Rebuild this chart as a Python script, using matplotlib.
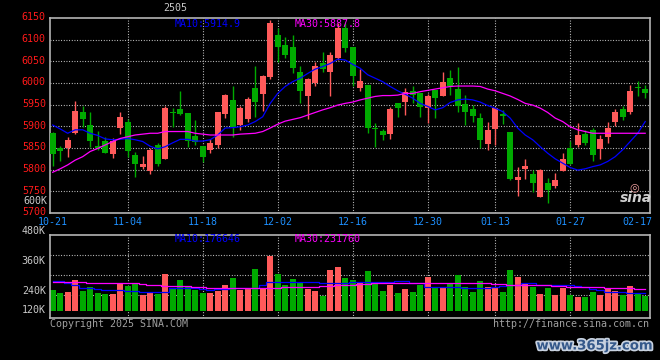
import matplotlib
matplotlib.use('Agg')
import matplotlib.pyplot as plt
import matplotlib.transforms as mtransforms
import matplotlib.patheffects as pe
import numpy as np

# daily candles, 2024-10-21 .. 2025-02-18
opens = [5884, 5849, 5849, 5884, 5932, 5903, 5855, 5866, 5837, 5896,
         5909, 5834, 5806, 5797, 5857, 5825, 5933, 5939, 5931, 5878,
         5855, 5846, 5857, 5929, 5961, 5902, 5917, 5988, 5975, 6015,
         6111, 6088, 6083, 6025, 5971, 5999, 6045, 6025, 6057, 6126,
         6082, 5989, 5995, 5895, 5889, 5882, 5953, 5957, 5982, 5978,
         5942, 5984, 5969, 6012, 5986, 5951, 5940, 5919, 5859, 5894,
         5929, 5888, 5777, 5801, 5790, 5738, 5769, 5763, 5798, 5849,
         5857, 5882, 5892, 5848, 5876, 5909, 5939, 5932, 5990, 5986]
highs = [5886, 5855, 5876, 5959, 5948, 5934, 5889, 5875, 5872, 5932,
         5917, 5840, 5832, 5850, 5861, 5948, 5942, 5982, 5931, 5914,
         5855, 5870, 5934, 5975, 5992, 5946, 5967, 6039, 6019, 6145,
         6126, 6107, 6111, 6040, 6011, 6049, 6072, 6071, 6138, 6138,
         6082, 6032, 5995, 5907, 5895, 5945, 5953, 5988, 5992, 5978,
         5975, 5984, 6025, 6030, 6038, 5972, 5949, 5930, 5909, 5945,
         5938, 5888, 5807, 5825, 5799, 5802, 5780, 5792, 5838, 5867,
         5907, 5891, 5897, 5880, 5909, 5940, 5948, 5996, 6005, 5995]
lows = [5809, 5821, 5830, 5882, 5899, 5853, 5846, 5838, 5826, 5882,
        5830, 5784, 5802, 5790, 5809, 5825, 5899, 5926, 5853, 5857,
        5817, 5838, 5849, 5919, 5876, 5892, 5911, 5922, 5935, 6009,
        6049, 6057, 6022, 5953, 5917, 5992, 6026, 5969, 6053, 6072,
        5994, 5982, 5884, 5853, 5869, 5871, 5922, 5926, 5955, 5922,
        5907, 5920, 5969, 5972, 5934, 5903, 5911, 5849, 5846, 5857,
        5905, 5776, 5740, 5779, 5748, 5738, 5722, 5757, 5798, 5813,
        5853, 5857, 5819, 5825, 5861, 5901, 5915, 5928, 5969, 5965]
closes = [5837, 5842, 5869, 5936, 5917, 5866, 5849, 5839, 5866, 5922,
          5842, 5814, 5813, 5845, 5814, 5942, 5931, 5928, 5866, 5863,
          5830, 5862, 5932, 5972, 5899, 5942, 5963, 5957, 6015, 6138,
          6082, 6065, 6034, 5982, 6009, 6040, 6032, 6065, 6126, 6080,
          6016, 6005, 5897, 5893, 5880, 5940, 5943, 5980, 5972, 5945,
          5970, 5965, 6003, 5994, 5946, 5934, 5925, 5869, 5892, 5943,
          5925, 5779, 5782, 5809, 5770, 5799, 5753, 5776, 5825, 5813,
          5879, 5861, 5835, 5871, 5896, 5932, 5922, 5982, 5988, 5978]
ma10 = [5903, 5894, 5884, 5892, 5892, 5884, 5879, 5871, 5869, 5870,
        5872, 5869, 5865, 5854, 5848, 5853, 5862, 5870, 5870, 5866,
        5866, 5869, 5880, 5896, 5897, 5899, 5903, 5911, 5922, 5953,
        5976, 5992, 6003, 6011, 6022, 6032, 6038, 6045, 6055, 6053,
        6043, 6034, 6019, 6011, 6003, 5992, 5982, 5974, 5965, 5953,
        5946, 5938, 5943, 5955, 5961, 5963, 5961, 5956, 5948, 5942,
        5934, 5919, 5896, 5880, 5869, 5853, 5838, 5825, 5815, 5805,
        5799, 5802, 5807, 5811, 5819, 5830, 5846, 5865, 5884, 5911]
ma30 = [5794, 5802, 5811, 5822, 5830, 5842, 5849, 5857, 5865, 5872,
        5876, 5880, 5882, 5884, 5884, 5888, 5888, 5888, 5888, 5884,
        5882, 5880, 5880, 5880, 5880, 5882, 5883, 5884, 5888, 5896,
        5905, 5912, 5916, 5920, 5926, 5932, 5938, 5943, 5949, 5953,
        5956, 5961, 5965, 5969, 5971, 5971, 5972, 5976, 5976, 5980,
        5983, 5986, 5989, 5992, 5993, 5993, 5993, 5992, 5986, 5982,
        5976, 5970, 5962, 5953, 5949, 5942, 5932, 5919, 5911, 5899,
        5892, 5888, 5884, 5884, 5884, 5884, 5884, 5884, 5884, 5884]

# volume (thousands)
volume = [244, 233, 237, 284, 240, 255, 233, 228, 228, 267,
          261, 273, 224, 233, 228, 308, 251, 284, 262, 244,
          233, 233, 240, 264, 291, 244, 251, 328, 248, 381,
          308, 264, 287, 271, 248, 240, 220, 323, 335, 291,
          284, 273, 320, 271, 240, 264, 231, 247, 235, 264,
          296, 251, 253, 267, 304, 255, 235, 280, 255, 255,
          235, 323, 297, 271, 255, 227, 253, 224, 251, 224,
          218, 218, 237, 224, 248, 240, 224, 260, 231, 221]
vol_ma10 = [280, 280, 271, 264, 253, 251, 248, 244, 244, 244,
            240, 240, 237, 237, 237, 238, 251, 253, 253, 251,
            248, 244, 248, 248, 253, 253, 253, 253, 264, 277,
            277, 277, 277, 277, 277, 277, 271, 271, 271, 271,
            277, 277, 277, 277, 277, 277, 279, 279, 271, 271,
            257, 257, 257, 255, 255, 253, 253, 253, 253, 257,
            261, 264, 264, 271, 271, 266, 266, 264, 264, 264,
            261, 257, 250, 244, 237, 237, 237, 231, 231, 231]
vol_ma30 = [277, 277, 277, 277, 275, 271, 271, 271, 271, 271,
            271, 271, 268, 266, 264, 261, 261, 261, 261, 257,
            255, 253, 253, 252, 252, 252, 252, 253, 253, 253,
            253, 255, 257, 257, 257, 258, 260, 262, 264, 264,
            266, 268, 270, 271, 271, 271, 271, 271, 271, 271,
            271, 271, 271, 271, 271, 271, 271, 271, 271, 270,
            268, 266, 266, 264, 264, 264, 264, 262, 260, 258,
            257, 257, 257, 255, 253, 253, 251, 251, 250, 250]

date_pos = [0, 10, 20, 30, 40, 50, 59, 69, 78]
date_labels = ['10-21', '11-04', '11-18', '12-02', '12-16', '12-30', '01-13', '01-27', '02-17']
price_ticks = [5700, 5750, 5800, 5850, 5900, 5950, 6000, 6050, 6100, 6150]
vol_labels = ['480K', '360K', '240K', '120K']
vol_label_pos = [480, 360, 240, 164]

RED = '#ff5a5a'
GREEN = '#00aa00'
GRID = '#d8d8d8'
BORDER = '#b4b4b4'
MONO = 'DejaVu Sans Mono'
FS = 7.2

o = np.array(opens, float)
c = np.array(closes, float)
x = np.arange(len(o))
colors = np.where(c >= o, RED, GREEN)

fig = plt.figure(figsize=(6.6, 3.6), dpi=100, facecolor='black')


def box(l, t, r, b):
    return [l / 660, 1 - b / 360, (r - l) / 660, (b - t) / 360]


def px(xp, yp):
    return xp / 660, 1 - yp / 360


ax = fig.add_axes(box(50, 18, 650, 213))
axv = fig.add_axes(box(50, 235, 650, 318))

for a in (ax, axv):
    a.set_facecolor('black')
    for s in a.spines.values():
        s.set_color(BORDER)
        s.set_linewidth(1.2)
    a.set_xlim(-0.36, 79.64)
    for p in date_pos[1:-1]:
        a.axvline(p, color=GRID, lw=0.8, ls=(0, (0.8, 1.6)), zorder=0)
    a.tick_params(length=0)

# price panel
for t in price_ticks[1:-1]:
    ax.axhline(t, color=GRID, lw=0.8, ls=(0, (0.8, 1.6)), zorder=0)
ax.vlines(x, lows, highs, colors=colors, lw=1.0, zorder=2)
ax.bar(x, np.maximum(np.abs(c - o), 3), bottom=np.minimum(o, c), width=0.8,
       color=colors, zorder=3)
ax.plot(x, ma10, color='#0000ff', lw=0.9, zorder=4)
ax.plot(x, ma30, color='#ff00ff', lw=0.9, zorder=4)
ax.set_ylim(5700, 6150)
ax.set_yticks(price_ticks)
ax.set_yticklabels([str(t) for t in price_ticks], color='#ff1a1a',
                   fontsize=FS, family=MONO)
ax.tick_params(axis='y', pad=3)
lift = mtransforms.ScaledTranslation(0, 1.8 / 100, fig.dpi_scale_trans)
for lab in ax.get_yticklabels():
    lab.set_transform(lab.get_transform() + lift)
ax.set_xticks(date_pos)
ax.set_xticklabels(date_labels, color='#1e90ff', fontsize=FS, family=MONO)
ax.tick_params(axis='x', pad=3)

# volume panel
vol = np.array(volume) * 1000.0
axv.set_ylim(132000, 464000)
for g in (384000, 304000, 224000):
    axv.axhline(g, color=GRID, lw=0.8, ls=(0, (0.8, 1.6)), zorder=0)
axv.bar(x, vol - 161000, bottom=161000, width=0.8, color=colors, zorder=2)
axv.plot(x, np.array(vol_ma10) * 1000, color='#0000ff', lw=0.9, zorder=3,
         drawstyle='steps-mid')
axv.plot(x, np.array(vol_ma30) * 1000, color='#ff00ff', lw=0.9, zorder=3,
         drawstyle='steps-mid')
axv.set_xticks([])
axv.set_yticks([])
tr = mtransforms.blended_transform_factory(axv.transAxes, axv.transData)
for lab, v in zip(vol_labels, vol_label_pos):
    axv.text(-0.007, v * 1000, lab, transform=tr, ha='right', va='center',
             color='#c8c8c8', fontsize=FS, family=MONO, clip_on=False)

# texts
fig.text(*px(175, 8), '2505', color='#c8c8c8', fontsize=FS, family=MONO,
         ha='center', va='center')
fig.text(*px(175, 24), 'MA10:5914.9', color='#0000ff', fontsize=FS,
         family=MONO, va='center')
fig.text(*px(295, 24), 'MA30:5887.8', color='#ff00ff', fontsize=FS,
         family=MONO, va='center')
fig.text(*px(175, 239), 'MA10:176646', color='#0000ff', fontsize=FS,
         family=MONO, va='center')
fig.text(*px(295, 239), 'MA30:231760', color='#ff00ff', fontsize=FS,
         family=MONO, va='center')
fig.text(*px(47, 201), '600K', color='#c8c8c8', fontsize=FS, family=MONO,
         ha='right', va='center')
fig.text(*px(50, 324), 'Copyright 2025 SINA.COM', color='#a0a0a0',
         fontsize=FS, family=MONO, va='center')
fig.text(*px(649, 324), 'http://finance.sina.com.cn', color='#a0a0a0',
         fontsize=FS, family=MONO, ha='right', va='center')
fig.text(*px(636, 198), 'sina', color='#d0d0d0', fontsize=10, style='italic',
         weight='bold', ha='center', va='center')
fig.text(*px(634, 187), '\u25ce', color='#f0a0a0', fontsize=8,
         ha='center', va='center')
fig.text(*px(595, 346), 'www.365jz.com', color='#34588a', fontsize=9.5,
         weight='bold', ha='center', va='center',
         path_effects=[pe.withStroke(linewidth=2.5, foreground='#c8d2e0')])

fig.savefig('out.png', dpi=100, facecolor='black')
